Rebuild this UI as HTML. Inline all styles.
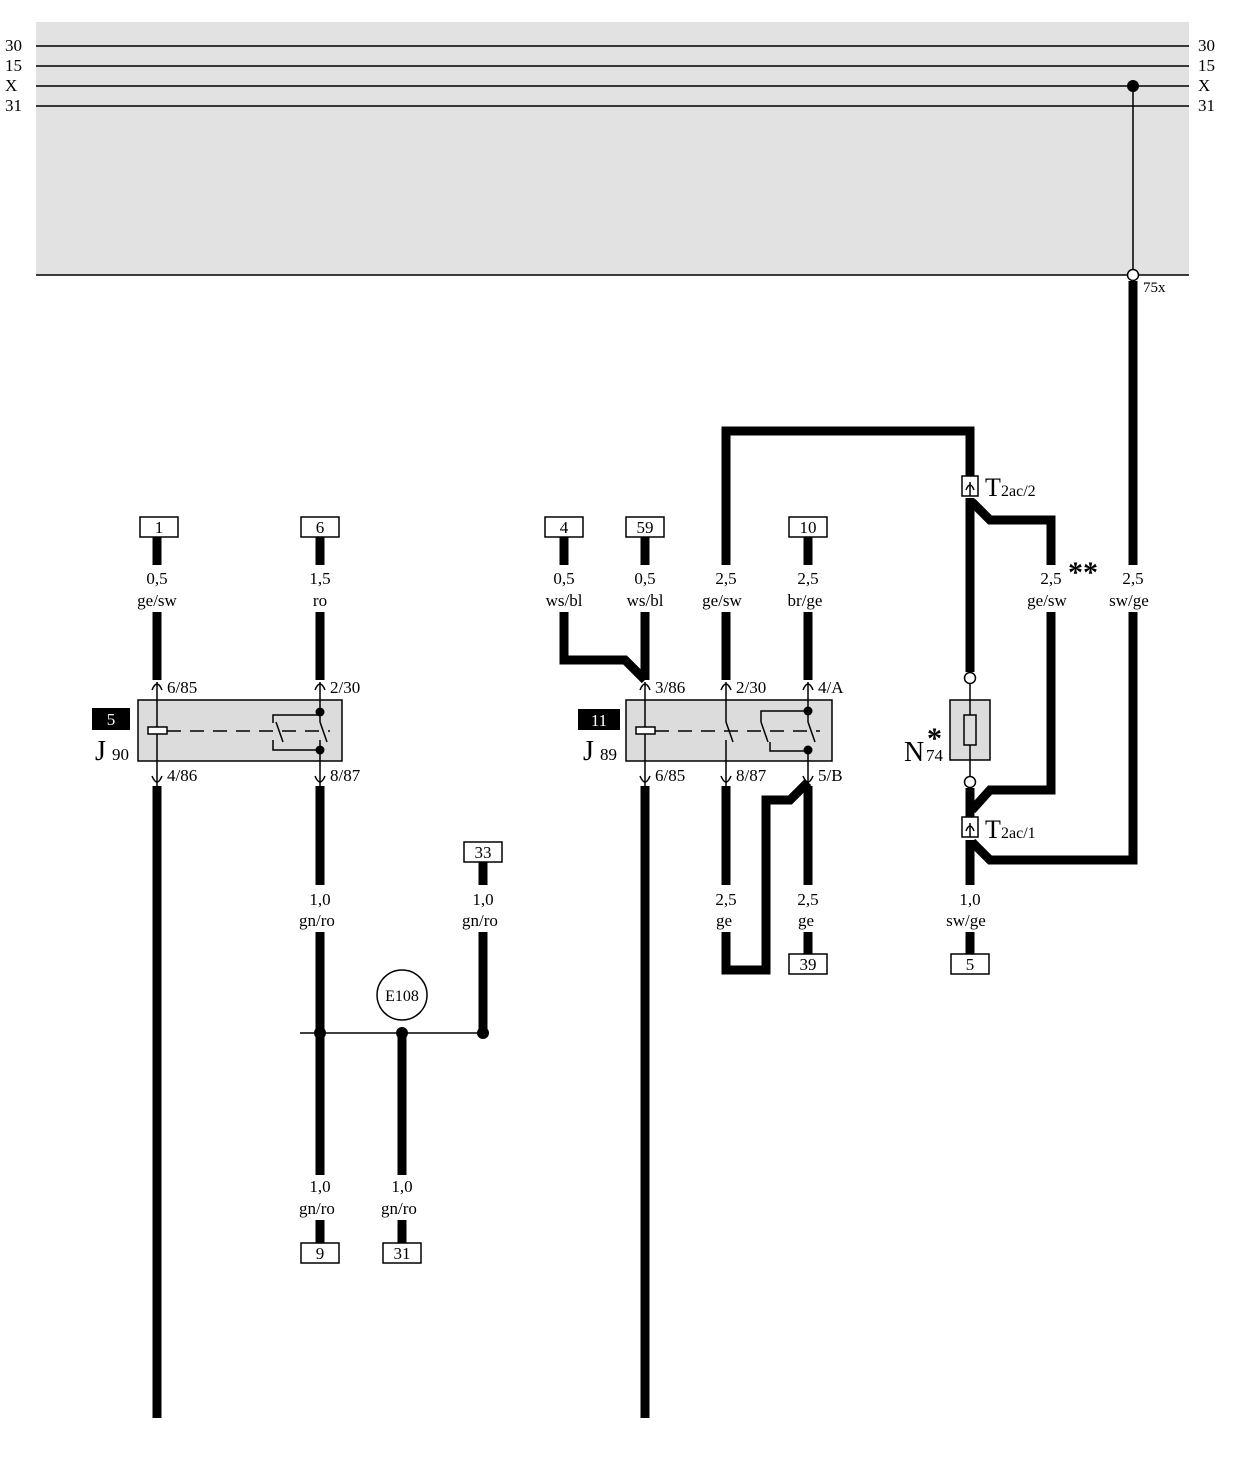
<!DOCTYPE html>
<html><head><style>body{margin:0;background:#fff}svg{display:block}text{font-family:"Liberation Serif",serif}</style></head><body>
<svg width="1234" height="1480" viewBox="0 0 1234 1480" xmlns="http://www.w3.org/2000/svg" font-size="17">
<rect x="36" y="22" width="1153" height="253" fill="#e2e2e2"/>
<g stroke="#000" stroke-width="1.5">
<line x1="36" y1="46" x2="1189" y2="46"/><line x1="36" y1="66" x2="1189" y2="66"/>
<line x1="36" y1="86" x2="1189" y2="86"/><line x1="36" y1="106" x2="1189" y2="106"/>
<line x1="36" y1="275" x2="1189" y2="275"/><line x1="1133" y1="86" x2="1133" y2="275"/>
</g>
<g text-anchor="start"><text x="5" y="51">30</text><text x="5" y="71">15</text><text x="5" y="91">X</text><text x="5" y="111">31</text>
<text x="1198" y="51">30</text><text x="1198" y="71">15</text><text x="1198" y="91">X</text><text x="1198" y="111">31</text>
<text x="1143" y="292" font-size="15">75x</text></g>
<circle cx="1133" cy="86" r="6"/>
<circle cx="1133" cy="275" r="5.5" fill="#fff" stroke="#000" stroke-width="1.5"/>

<g fill="none" stroke="#000" stroke-width="9" stroke-linejoin="miter">
<path d="M1133 281V565M1133 612V860H990L972 842"/>
<path d="M157 537V565M157 612V680M157 786V1418"/>
<path d="M320 537V565M320 612V680M320 786V885M320 932V1175M320 1220V1243"/>
<path d="M402 1033V1175M402 1220V1243"/>
<path d="M483 862V885M483 932V1033"/>
<path d="M564 537V565M564 612V660H625L645 680"/>
<path d="M645 537V565M645 612V680M645 786V1418"/>
<path d="M726 565V431H970V478M726 612V680M726 786V885M726 932V970H766V800H790L808 782"/>
<path d="M808 537V565M808 612V680M808 786V885M808 932V954"/>
<path d="M970 498V672M970 788V818M970 840V885M970 932V954"/>
<path d="M972 502L990 520H1051V565M1051 612V790H990L972 810"/>
</g>
<g fill="#fff" stroke="#000" stroke-width="1.5">
<rect x="140" y="517" width="38" height="20"/><rect x="301" y="517" width="38" height="20"/>
<rect x="545" y="517" width="38" height="20"/><rect x="626" y="517" width="38" height="20"/><rect x="789" y="517" width="38" height="20"/>
<rect x="464" y="842" width="38" height="20"/><rect x="789" y="954" width="38" height="20"/><rect x="951" y="954" width="38" height="20"/>
<rect x="301" y="1243" width="38" height="20"/><rect x="383" y="1243" width="38" height="20"/>
</g>
<g text-anchor="middle">
<text x="159" y="533">1</text><text x="320" y="533">6</text><text x="564" y="533">4</text><text x="645" y="533">59</text><text x="808" y="533">10</text>
<text x="483" y="858">33</text><text x="808" y="970">39</text><text x="970" y="970">5</text><text x="320" y="1259">9</text><text x="402" y="1259">31</text>
<text x="157" y="584">0,5</text><text x="157" y="606">ge/sw</text>
<text x="320" y="584">1,5</text><text x="320" y="606">ro</text>
<text x="564" y="584">0,5</text><text x="564" y="606">ws/bl</text>
<text x="645" y="584">0,5</text><text x="645" y="606">ws/bl</text>
<text x="726" y="584">2,5</text><text x="722" y="606">ge/sw</text>
<text x="808" y="584">2,5</text><text x="805" y="606">br/ge</text>
<text x="1051" y="584">2,5</text><text x="1047" y="606">ge/sw</text>
<text x="1133" y="584">2,5</text><text x="1129" y="606">sw/ge</text>
<text x="320" y="905">1,0</text><text x="317" y="926">gn/ro</text>
<text x="483" y="905">1,0</text><text x="480" y="926">gn/ro</text>
<text x="726" y="905">2,5</text><text x="724" y="926">ge</text>
<text x="808" y="905">2,5</text><text x="806" y="926">ge</text>
<text x="970" y="905">1,0</text><text x="966" y="926">sw/ge</text>
<text x="320" y="1192">1,0</text><text x="317" y="1214">gn/ro</text>
<text x="402" y="1192">1,0</text><text x="399" y="1214">gn/ro</text>
</g>
<text x="1068" y="582" font-size="30" font-weight="bold">**</text>
<line x1="300" y1="1033" x2="483" y2="1033" stroke="#000" stroke-width="1.5"/>
<circle cx="320" cy="1033" r="6"/><circle cx="402" cy="1033" r="6"/><circle cx="483" cy="1033" r="6"/>
<circle cx="402" cy="995" r="25" fill="#fff" stroke="#000" stroke-width="1.5"/>
<text x="402" y="1001" text-anchor="middle" font-size="16">E108</text>

<rect x="138" y="700" width="204" height="61" fill="#dcdcdc" stroke="#000" stroke-width="1.5"/>
<rect x="92" y="708" width="38" height="22" fill="#000"/><text x="111" y="725" text-anchor="middle" fill="#fff">5</text>
<text x="95" y="760" font-size="28">J</text><text x="112" y="760">90</text>
<g stroke="#000" stroke-width="1.5" fill="none">
<line x1="157" y1="682" x2="157" y2="786"/><rect x="148" y="727" width="19" height="7" fill="#fff"/>
<line x1="167" y1="731" x2="330" y2="731" stroke-dasharray="14,9"/>
<path d="M320 682V715H273V723M273 740V750H320V786M320 715V722M320 740V750M276 722L283 742M320 722L327 742"/>
<path d="M152 690Q157 678 162 690M315 690Q320 678 325 690M152 776Q157 788 162 776M315 776Q320 788 325 776"/>
</g>
<circle cx="320" cy="712" r="4.5"/><circle cx="320" cy="750" r="4.5"/>
<text x="167" y="693">6/85</text><text x="330" y="693">2/30</text><text x="167" y="781">4/86</text><text x="330" y="781">8/87</text>

<rect x="626" y="700" width="206" height="61" fill="#dcdcdc" stroke="#000" stroke-width="1.5"/>
<rect x="578" y="709" width="42" height="21" fill="#000"/><text x="599" y="726" text-anchor="middle" fill="#fff">11</text>
<text x="583" y="760" font-size="28">J</text><text x="600" y="760">89</text>
<g stroke="#000" stroke-width="1.5" fill="none">
<line x1="645" y1="682" x2="645" y2="786"/><rect x="636" y="727" width="19" height="7" fill="#fff"/>
<line x1="655" y1="731" x2="820" y2="731" stroke-dasharray="14,9"/>
<path d="M726 682V722M726 740V786M726 722L733 742"/>
<path d="M808 682V711H761V722M808 711V722M808 722L815 742M761 722L768 742M770 742V751H808V786"/>
<path d="M640 690Q645 678 650 690M721 690Q726 678 731 690M803 690Q808 678 813 690M640 776Q645 788 650 776M721 776Q726 788 731 776M803 776Q808 788 813 776"/>
</g>
<circle cx="808" cy="711" r="4.5"/><circle cx="808" cy="750" r="4.5"/>
<text x="655" y="693">3/86</text><text x="736" y="693">2/30</text><text x="818" y="693">4/A</text>
<text x="655" y="781">6/85</text><text x="736" y="781">8/87</text><text x="818" y="781">5/B</text>

<rect x="950" y="700" width="40" height="60" fill="#dcdcdc" stroke="#000" stroke-width="1.5"/>
<line x1="970" y1="684" x2="970" y2="776" stroke="#000" stroke-width="1.5"/>
<rect x="964" y="715" width="12" height="30" fill="#dcdcdc" stroke="#000" stroke-width="1.5"/>
<circle cx="970" cy="678" r="5.5" fill="#fff" stroke="#000" stroke-width="1.5"/>
<circle cx="970" cy="782" r="5.5" fill="#fff" stroke="#000" stroke-width="1.5"/>
<text x="904" y="761" font-size="28">N</text><text x="926" y="761">74</text>
<text x="927" y="748" font-size="30" font-weight="bold">*</text>
<g stroke="#000" stroke-width="1.5" fill="#fff">
<rect x="962" y="476" width="16" height="20"/><rect x="962" y="817" width="16" height="20"/>
</g>
<g stroke="#000" stroke-width="1.5" fill="none">
<path d="M966 490Q970 480 974 490M970 482V496M966 831Q970 821 974 831M970 823V837"/>
</g>
<text x="985" y="496" font-size="26">T</text><text x="1001" y="496" font-size="16">2ac/2</text>
<text x="985" y="838" font-size="26">T</text><text x="1001" y="838" font-size="16">2ac/1</text>
</svg>
</body></html>
